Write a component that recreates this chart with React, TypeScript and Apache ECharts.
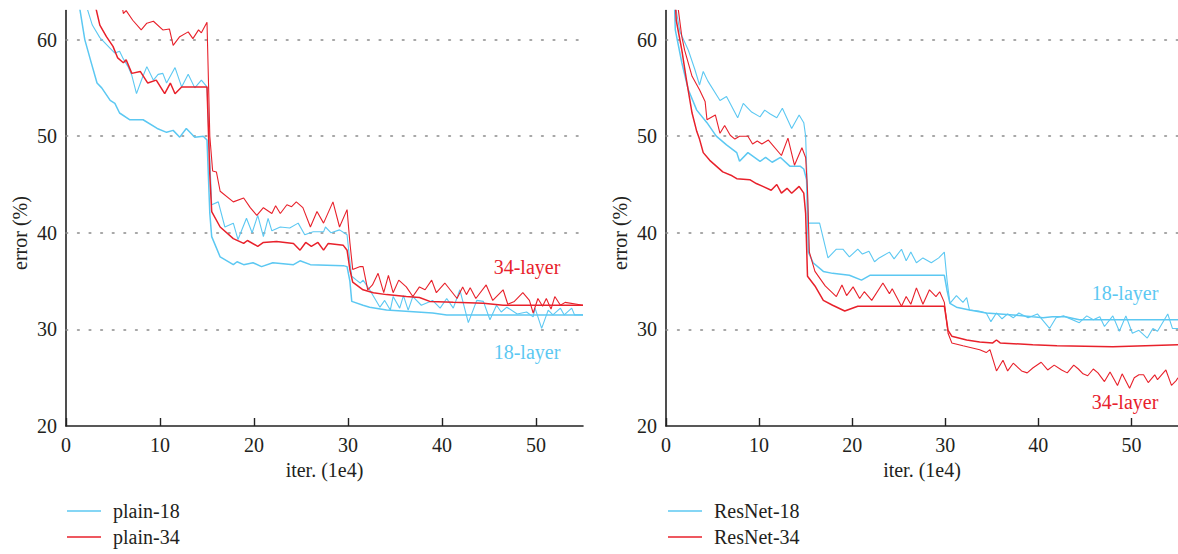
import React, { useEffect, useRef } from "react";
import * as echarts from "echarts";

const FONT = "'Liberation Serif', 'Times New Roman', serif";
const CYAN = "#5cc8f2";
const RED = "#e8212b";
const TEXT = "#231f20";

const xTicks = [0, 10, 20, 30, 40, 50];
const yTicks = [20, 30, 40, 50, 60];
const gridValues = [30, 40, 50, 60];
const xRange = [0, 55];
const yRange = [20, 63];

const leftLegend = ["plain-18", "plain-34"];
const rightLegend = ["ResNet-18", "ResNet-34"];

// plain nets (left)
const plain18Noisy = [[2.0,64],[2.8,61.5],[3.6,60.2],[4.7,59.1],[5.2,58.6],[5.7,58.8],[6.1,58.0],[6.6,57.2],[7.0,56.3],[7.5,54.4],[8.1,56.0],[8.6,57.2],[9.3,55.8],[9.8,56.4],[10.3,56.5],[10.7,55.5],[11.6,57.1],[12.3,55.1],[13.0,56.4],[13.7,55.0],[14.4,55.8],[15.0,55.1],[15.2,50],[15.5,42.9],[16.2,43.2],[16.9,40.6],[17.8,41.0],[18.3,39.3],[19.2,41.5],[19.8,40.0],[20.4,41.8],[21.0,39.6],[21.5,41.5],[21.9,40.2],[22.8,40.6],[23.8,40.5],[24.7,41.0],[25.4,39.8],[26.3,40.1],[27.4,40.1],[27.6,40.6],[28.2,40.0],[29.1,40.3],[29.9,39.8],[30.2,37],[30.4,35.5],[30.9,35.1],[31.3,34.8],[31.6,35.1],[32.3,34.1],[33.4,32.3],[33.9,33.0],[34.5,32.0],[34.8,33.4],[35.5,32.2],[35.9,33.5],[36.4,32.0],[36.9,33.4],[37.8,32.5],[39.0,33.0],[39.8,32.2],[40.5,33.2],[41.2,32.2],[41.9,34.1],[42.8,30.7],[43.7,33.0],[44.4,32.9],[45.1,31.0],[45.8,32.5],[46.3,31.8],[46.9,32.3],[48.0,31.6],[49.0,31.8],[49.7,31.3],[49.9,32.2],[50.6,30.1],[51.3,32.0],[51.8,31.5],[52.6,32.2],[53.0,31.5],[53.8,32.2],[54.1,31.5],[55,31.5]];
const plain18Step = [[1.3,64],[1.5,63],[2.0,60],[2.6,57.9],[3.3,55.5],[3.8,55.0],[4.7,53.7],[5.2,53.4],[5.7,52.4],[6.8,51.7],[8.2,51.7],[9.7,50.8],[10.7,50.4],[11.4,50.6],[12.1,49.9],[12.8,50.8],[13.7,49.9],[14.6,50.0],[15.0,49.6],[15.3,42],[15.5,39.6],[16.4,37.5],[17.8,36.7],[18.2,37.0],[18.9,36.7],[19.9,36.9],[20.8,36.5],[22.0,36.9],[24.2,36.7],[24.9,37.1],[26.0,36.7],[29.5,36.6],[29.9,36.5],[30.2,35],[30.4,32.9],[31.6,32.5],[32.3,32.3],[34.1,32.0],[39.0,31.7],[40.5,31.5],[55,31.5]];
const plain34Noisy = [[5.9,64],[6.1,62.7],[6.4,63.0],[7.1,62.0],[8.0,61.0],[8.6,61.7],[9.3,61.9],[10.3,61.0],[11.0,61.1],[11.4,59.4],[12.1,60.3],[13.0,60.8],[13.5,60.1],[14.1,61.0],[14.4,60.7],[15.0,61.8],[15.3,50],[15.6,46.4],[16.0,46.3],[16.4,44.3],[17.8,43.2],[18.9,43.6],[19.6,42.6],[20.3,41.8],[21.0,42.6],[21.9,42.0],[22.3,42.8],[22.8,42.0],[23.5,42.9],[24.0,42.7],[24.5,43.2],[25.2,42.6],[26.0,40.6],[26.7,42.2],[27.4,41.0],[28.4,43.2],[29.1,40.6],[29.9,42.4],[30.2,39],[30.5,36.2],[31.3,36.5],[31.6,36.5],[32.1,34.1],[32.6,34.6],[33.2,35.8],[33.8,33.8],[34.3,35.6],[34.8,33.8],[35.4,35.1],[36.2,34.4],[36.9,33.4],[37.6,34.4],[38.2,34.1],[38.9,35.1],[39.4,33.8],[40.3,34.8],[41.6,33.2],[42.2,34.4],[42.6,33.6],[43.0,34.3],[43.6,33.2],[44.7,34.6],[45.4,33.0],[45.9,33.5],[46.5,34.1],[47.0,32.6],[47.7,32.9],[48.6,33.8],[49.3,33.0],[49.7,31.7],[50.2,33.2],[50.7,32.4],[51.1,33.2],[51.6,32.1],[52.0,33.4],[52.6,32.5],[53.1,32.8],[55,32.5]];
const plain34Step = [[3.0,64],[3.6,61.5],[4.3,60.3],[5.0,59.3],[5.5,58.1],[6.1,57.6],[6.4,57.9],[7.0,56.5],[7.9,56.7],[8.7,55.5],[9.6,55.8],[10.5,54.4],[11.1,55.5],[11.6,54.4],[12.3,55.1],[15.0,55.1],[15.3,46],[15.5,42.2],[16.4,40.6],[17.8,39.4],[18.9,38.9],[19.3,39.2],[20.4,38.6],[21.0,39.0],[22.4,39.1],[24.2,38.9],[24.9,38.2],[25.5,39.0],[26.1,38.6],[26.8,39.0],[27.4,38.2],[27.9,38.9],[29.5,38.7],[29.9,38.2],[30.2,36.2],[30.5,34.9],[31.6,34.1],[32.7,33.8],[34.1,33.6],[36.2,33.4],[37.6,33.3],[38.7,32.9],[41.2,32.8],[44.4,32.7],[46.5,32.5],[55,32.5]];

// residual nets (right)
const res18Noisy = [[1.0,64],[1.1,63],[1.5,60.8],[2.4,58.9],[3.1,56.9],[3.6,55.3],[4.0,56.7],[4.5,55.7],[5.8,53.7],[6.5,54.1],[7.7,51.9],[8.3,53.4],[9.2,52.5],[10.1,52.0],[10.6,52.7],[11.2,52.3],[11.9,51.9],[12.5,52.9],[13.5,50.8],[14.3,52.2],[14.8,51.4],[15.0,50],[15.3,41.0],[16.5,41.0],[17.4,37.4],[18.3,38.3],[19.0,38.3],[19.7,37.5],[20.6,38.3],[21.1,37.8],[21.8,38.1],[22.4,37.0],[22.9,37.4],[24.0,38.0],[24.5,37.3],[25.3,38.3],[25.8,37.1],[26.3,38.0],[26.9,36.9],[27.6,37.4],[28.5,36.9],[29.3,37.4],[29.9,38.0],[30.2,35],[30.5,32.7],[31.2,33.5],[31.9,32.8],[32.3,33.3],[32.6,32.0],[33.6,31.9],[34.4,31.7],[34.9,30.8],[35.5,31.7],[36.1,31.1],[36.7,31.6],[37.3,31.2],[37.9,31.7],[38.9,31.2],[39.9,31.6],[41.2,30.1],[41.9,31.2],[42.7,31.4],[44.4,30.7],[45.2,31.4],[45.9,31.0],[46.6,31.3],[47.1,30.3],[48.0,31.4],[48.7,29.8],[49.4,31.4],[50.1,29.6],[50.8,29.9],[51.7,29.1],[52.3,30.1],[52.8,29.8],[53.9,31.6],[54.4,30.1],[55,30.1]];
const res18Step = [[0.9,64],[1.0,61.0],[1.7,57.6],[2.4,54.8],[3.3,52.7],[4.4,51.4],[5.4,50.0],[6.5,49.1],[7.6,48.3],[7.9,47.4],[8.8,48.3],[10.1,47.4],[10.7,47.8],[11.4,47.3],[12.3,47.8],[13.3,46.9],[14.4,46.9],[14.8,46.6],[15.1,45.5],[15.3,38.0],[15.8,36.9],[16.9,36.0],[17.9,35.8],[19.7,35.6],[21.0,35.1],[21.9,35.6],[29.9,35.6],[30.2,34],[30.5,32.7],[31.2,32.3],[32.6,32.0],[34.4,31.7],[37.3,31.5],[39.4,31.3],[40.5,31.2],[41.5,31.3],[42.9,31.3],[44.4,31.0],[55,31.0]];
const res34Noisy = [[1.2,64],[1.7,60.3],[2.0,58.9],[2.8,56.2],[3.6,54.8],[4.2,53.6],[4.4,51.7],[5.3,52.2],[5.8,50.3],[6.3,51.1],[6.9,50.1],[7.4,49.7],[7.9,50.0],[8.8,50.0],[9.3,49.2],[9.8,49.5],[10.3,49.2],[11.0,49.6],[12.4,48.0],[13.1,49.8],[13.8,47.0],[14.6,48.8],[15.0,47.8],[15.2,44.4],[15.4,38.0],[16.0,36.0],[17.1,34.5],[18.3,33.4],[18.9,34.6],[19.4,33.5],[20.1,34.4],[20.8,33.2],[21.3,33.9],[22.1,33.0],[23.3,34.8],[24.0,33.7],[24.3,34.2],[25.3,32.4],[25.8,33.4],[26.3,32.6],[26.9,34.3],[27.6,32.6],[28.3,34.1],[29.0,33.4],[29.4,33.9],[29.9,32.8],[30.3,29.6],[30.7,28.6],[31.9,28.3],[33.7,27.9],[34.4,27.6],[34.8,27.9],[35.5,25.7],[36.2,26.8],[36.7,25.7],[37.3,26.5],[38.2,25.7],[38.8,25.5],[39.4,26.0],[40.3,26.6],[41.0,25.8],[41.7,26.3],[42.5,25.8],[43.1,25.5],[43.8,26.3],[44.3,25.9],[44.8,25.4],[45.3,25.2],[45.9,25.9],[46.4,25.5],[47.1,24.6],[47.7,25.6],[48.5,24.2],[49.0,25.4],[49.8,23.9],[50.3,25.0],[50.8,25.3],[51.3,25.3],[51.8,24.5],[52.5,25.3],[52.8,24.8],[53.7,25.8],[54.3,24.2],[54.8,24.7],[55,25.0]];
const res34Step = [[1.0,64],[1.1,62.0],[1.7,58.9],[2.2,55.8],[2.8,52.4],[3.3,50.5],[3.6,49.7],[4.0,48.3],[4.7,47.5],[6.1,46.3],[7.1,45.9],[7.6,45.6],[9.0,45.5],[9.7,45.1],[10.4,44.8],[11.3,44.4],[11.9,45.0],[12.4,44.1],[13.0,44.6],[13.5,44.1],[14.3,44.8],[14.8,44.1],[15.0,42],[15.2,35.5],[16.0,34.5],[16.9,33.0],[17.9,32.5],[19.2,31.9],[20.6,32.4],[29.9,32.4],[30.3,29.9],[30.7,29.3],[32.3,28.9],[33.7,28.7],[35.1,28.6],[35.5,28.9],[35.9,28.6],[39.4,28.4],[42.0,28.3],[48.0,28.2],[55,28.4]];

function lineSeries(name: string, data: number[][], color: string, idx: number, width: number, withGrid = false) {
  const s: any = {
    name,
    type: "line",
    xAxisIndex: idx,
    yAxisIndex: idx,
    data,
    symbol: "none",
    color,
    clip: true,
    lineStyle: { color, width },
    emphasis: { disabled: true },
  };
  if (withGrid) {
    s.markLine = {
      silent: true,
      symbol: ["none", "none"],
      label: { show: false },
      lineStyle: { type: [1.6, 10], color: "#8a8a8a", width: 1.6, cap: "round" },
      data: gridValues.map((v) => ({ yAxis: v })),
      z: 1,
    };
  }
  return s;
}

function xAxis(idx: number) {
  return {
    type: "value",
    gridIndex: idx,
    min: xRange[0],
    max: xRange[1],
    interval: 10,
    name: "iter. (1e4)",
    nameLocation: "middle",
    nameGap: 30,
    nameTextStyle: { fontFamily: FONT, fontSize: 20, color: TEXT },
    axisLine: { show: true, onZero: false, lineStyle: { color: "#222", width: 1.6 } },
    axisTick: { show: true, inside: true, length: 8, customValues: xTicks, lineStyle: { color: "#222", width: 1.4 } },
    axisLabel: { customValues: xTicks, margin: 9, fontFamily: FONT, fontSize: 20, color: TEXT },
    splitLine: { show: false },
  };
}

function yAxis(idx: number) {
  return {
    type: "value",
    gridIndex: idx,
    min: yRange[0],
    max: yRange[1],
    interval: 10,
    axisLine: { show: true, onZero: false, lineStyle: { color: "#222", width: 1.6 } },
    axisTick: { show: false },
    axisLabel: { customValues: yTicks, margin: 9, fontFamily: FONT, fontSize: 20, color: TEXT },
    splitLine: { show: false },
  };
}

function legend(data: string[], left: number) {
  return {
    data,
    orient: "vertical",
    left,
    top: 501,
    height: 120,
    width: 300,
    padding: 0,
    icon: "rect",
    itemWidth: 34,
    itemHeight: 1.5,
    itemGap: 6,
    selectedMode: false,
    textStyle: { fontFamily: FONT, fontSize: 20, lineHeight: 20, color: TEXT, padding: [0, 0, 0, 7] },
  };
}

function label(text: string, x: number, y: number, color: string, rotation = 0) {
  return {
    type: "text",
    x,
    y,
    rotation,
    silent: true,
    style: { text, fill: color, font: `20px ${FONT}`, align: "center", verticalAlign: "middle" },
  };
}

export default function App() {
  const ref = useRef<HTMLDivElement>(null);
  useEffect(() => {
    if (!ref.current) return;
    const chart = echarts.init(ref.current, undefined, { renderer: "svg" });
    chart.setOption({
      animation: false,
      backgroundColor: "#ffffff",
      grid: [
        { left: 66, top: 10.6, width: 517, height: 415.4 },
        { left: 666, top: 10.6, width: 512, height: 415.4 },
      ],
      xAxis: [xAxis(0), xAxis(1)],
      yAxis: [yAxis(0), yAxis(1)],
      legend: [legend(leftLegend, 67), legend(rightLegend, 668)],
      series: [
        lineSeries("plain-18", plain18Noisy, CYAN, 0, 1.1, true),
        lineSeries("plain-18", plain18Step, CYAN, 0, 1.5),
        lineSeries("plain-34", plain34Noisy, RED, 0, 1.1),
        lineSeries("plain-34", plain34Step, RED, 0, 1.5),
        lineSeries("ResNet-18", res18Noisy, CYAN, 1, 1.1, true),
        lineSeries("ResNet-18", res18Step, CYAN, 1, 1.5),
        lineSeries("ResNet-34", res34Noisy, RED, 1, 1.1),
        lineSeries("ResNet-34", res34Step, RED, 1, 1.5),
      ],
      graphic: [
        label("error (%)", 20, 233, TEXT, Math.PI / 2),
        label("error (%)", 620, 233, TEXT, Math.PI / 2),
        label("34-layer", 527, 267, RED),
        label("18-layer", 527, 352, CYAN),
        label("18-layer", 1125, 293, CYAN),
        label("34-layer", 1125, 402, RED),
      ],
    });
    return () => chart.dispose();
  }, []);
  return (
    <div
      ref={ref}
      style={{ position: "fixed", left: 0, top: 0, width: 1178, height: 554, background: "#fff" }}
    />
  );
}
